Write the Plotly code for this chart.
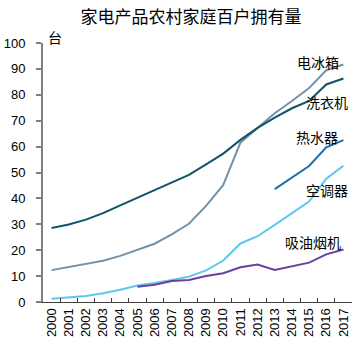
import plotly.graph_objects as go

years = [str(y) for y in range(2000, 2018)]
fridge = [12.3, 13.6, 14.8, 15.9, 17.8, 20.1, 22.5, 26.1, 30.2, 37.1, 45.2, 61.5, 67.3, 72.9, 77.6, 82.6, 89.5, 91.7]
washer = [28.6, 29.9, 31.8, 34.3, 37.3, 40.2, 43.0, 45.9, 49.1, 53.1, 57.3, 62.6, 67.2, 71.2, 74.8, 77.6, 84.0, 86.3]
heater = [None] * 13 + [43.6, 48.2, 52.5, 59.7, 62.5]
aircon = [1.3, 1.7, 2.3, 3.4, 4.7, 6.4, 7.3, 8.5, 9.8, 12.2, 16.0, 22.6, 25.4, 29.8, 34.2, 38.8, 47.6, 52.6]
hood = [None] * 5 + [5.9, 6.7, 8.1, 8.5, 10.0, 11.1, 13.4, 14.5, 12.4, 13.8, 15.2, 18.4, 20.3]

names = ["电冰箱", "洗衣机", "热水器", "空调器", "吸油烟机"]
series = [fridge, washer, heater, aircon, hood]
colors = ["#7093ab", "#0f5468", "#1c70aa", "#5cc8ee", "#6a3fa0"]
label_pos = [(0.889, 0.927), (0.920, 0.772), (0.888, 0.637), (0.920, 0.432), (0.875, 0.232)]

fig = go.Figure()
for n, s, c in zip(names, series, colors):
    fig.add_trace(go.Scatter(x=years, y=s, mode="lines", name=n,
                             line=dict(color=c, width=2), connectgaps=False))

for n, (px, py) in zip(names, label_pos):
    fig.add_annotation(text=n, x=px, y=py, xref="paper", yref="paper",
                       xanchor="center", yanchor="middle",
                       showarrow=False, font=dict(size=14, color="black",
                       family="Noto Sans CJK SC"))

fig.add_annotation(text="台", x=0.039, y=1.025, xref="paper", yref="paper",
                   xanchor="center", yanchor="middle",
                   showarrow=False, font=dict(size=14, color="black", family="Noto Sans CJK SC"))

fig.update_layout(
    width=355, height=347,
    margin=dict(l=43, r=3, t=43, b=45),
    plot_bgcolor="white", paper_bgcolor="white",
    showlegend=False,
    title=dict(text="家电产品农村家庭百户拥有量", x=191/355, xref="container",
               y=1 - 17/347, yref="container", xanchor="center", yanchor="middle",
               font=dict(size=17, color="black", family="Noto Sans CJK SC")),
    font=dict(family="Liberation Sans", color="black"),
)
fig.update_xaxes(type="category", range=[-0.5, 17.5], tickangle=-90,
                 tickson="boundaries", ticks="inside", ticklen=4, tickcolor="#404040",
                 showline=True, linecolor="#404040", linewidth=1, showgrid=False,
                 tickfont=dict(size=13, family="Liberation Sans"))
fig.update_yaxes(range=[0, 100], dtick=10, ticks="outside", ticklen=5, tickcolor="#808080",
                 tickwidth=2, showline=True, linecolor="#808080", linewidth=2, showgrid=False,
                 zeroline=False, ticklabelstandoff=8,
                 tickfont=dict(size=13, family="Liberation Sans"))

fig.write_html("out.html")
